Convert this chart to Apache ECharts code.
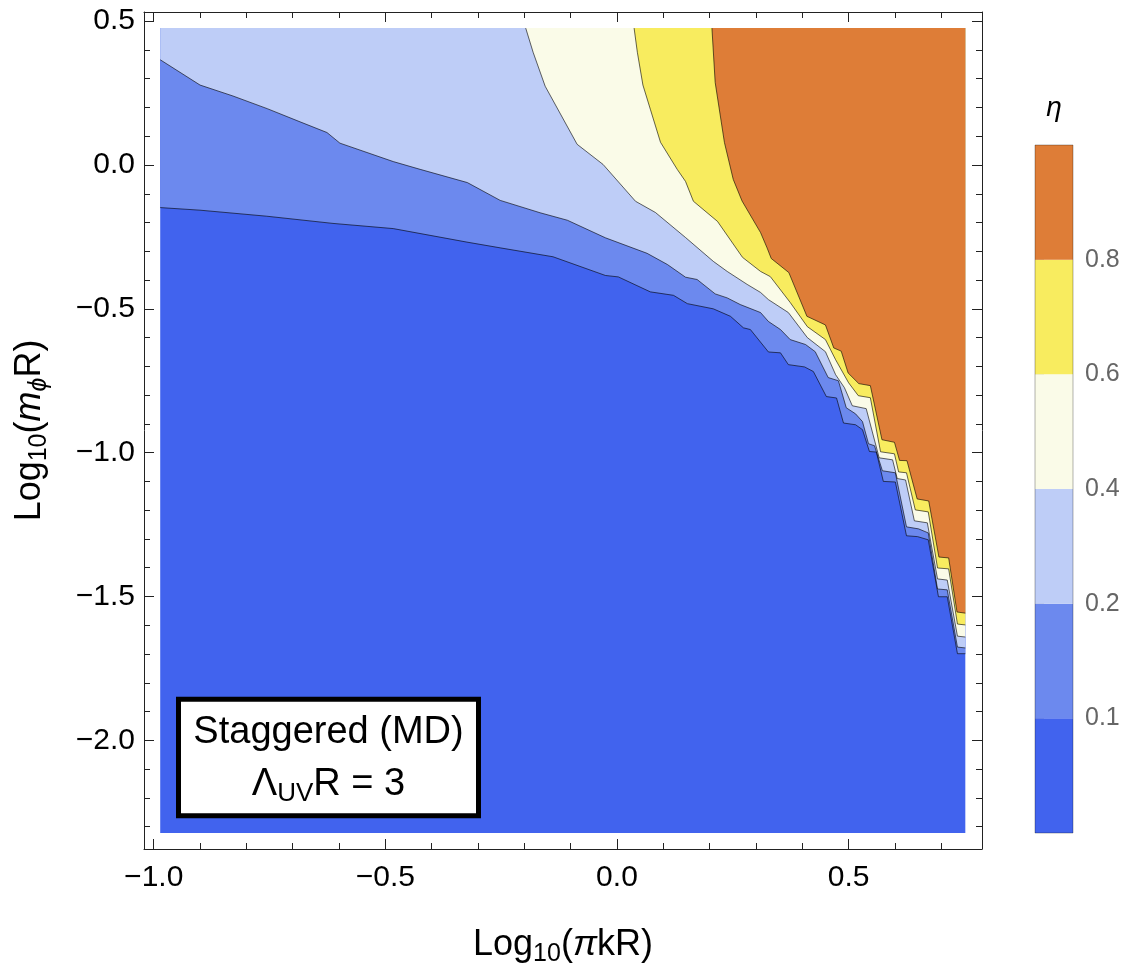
<!DOCTYPE html>
<html><head><meta charset="utf-8">
<script src="https://cdn.jsdelivr.net/npm/echarts@6/dist/echarts.min.js"></script>
<style>html,body{margin:0;padding:0;background:#fff}#c{width:1148px;height:973px}</style>
</head><body><div id="c"></div>
<script>
// ---------- data ----------
const X_RANGE = [-0.986, 0.752];      // extent of computed data
const Y_RANGE = [-2.322, 0.476];
const X_AXIS = [-1.021, 0.788];       // frame extent
const Y_AXIS = [-2.378, 0.532];
const X_MAJOR = [-1.0, -0.5, 0.0, 0.5];
const X_MINOR = [-0.9,-0.8,-0.7,-0.6,-0.4,-0.3,-0.2,-0.1,0.1,0.2,0.3,0.4,0.6,0.7];
const Y_MAJOR = [-2.0, -1.5, -1.0, -0.5, 0.0, 0.5];
const Y_MINOR = [-2.3,-2.2,-2.1,-1.9,-1.8,-1.7,-1.6,-1.4,-1.3,-1.2,-1.1,-0.9,-0.8,-0.7,-0.6,-0.4,-0.3,-0.2,-0.1,0.1,0.2,0.3,0.4];
const LEVELS = [0.1, 0.2, 0.4, 0.6, 0.8];
const COLORS = ['#4163EE', '#6C89EE', '#BECDF7', '#FAFBE8', '#F8EC5F', '#DE7D37'];

// contour eta = 0.1
const C_01 = [[-0.986,-0.148],[-0.900,-0.157],[-0.756,-0.178],[-0.613,-0.203],[-0.483,-0.221],[-0.324,-0.268],[-0.252,-0.288],[-0.138,-0.319],[-0.025,-0.384],[0.003,-0.389],[0.072,-0.441],[0.122,-0.453],[0.152,-0.482],[0.208,-0.500],[0.245,-0.526],[0.273,-0.566],[0.288,-0.572],[0.327,-0.650],[0.353,-0.653],[0.370,-0.694],[0.405,-0.702],[0.424,-0.718],[0.452,-0.805],[0.474,-0.810],[0.489,-0.897],[0.515,-0.903],[0.530,-0.920],[0.545,-0.996],[0.560,-0.998],[0.575,-1.100],[0.601,-1.102],[0.625,-1.289],[0.649,-1.292],[0.672,-1.303],[0.694,-1.501],[0.713,-1.501],[0.735,-1.699],[0.752,-1.699]];
// contour eta = 0.2
const C_02 = [[-0.986,0.366],[-0.900,0.278],[-0.829,0.240],[-0.755,0.196],[-0.684,0.150],[-0.626,0.113],[-0.598,0.076],[-0.483,0.012],[-0.425,-0.015],[-0.323,-0.061],[-0.252,-0.123],[-0.166,-0.166],[-0.107,-0.192],[-0.025,-0.253],[0.065,-0.307],[0.109,-0.346],[0.148,-0.390],[0.173,-0.398],[0.212,-0.448],[0.238,-0.462],[0.266,-0.485],[0.310,-0.513],[0.327,-0.544],[0.353,-0.572],[0.374,-0.607],[0.407,-0.624],[0.428,-0.649],[0.456,-0.739],[0.478,-0.750],[0.495,-0.844],[0.515,-0.865],[0.530,-0.892],[0.543,-0.969],[0.556,-0.976],[0.573,-1.063],[0.601,-1.070],[0.625,-1.258],[0.651,-1.265],[0.672,-1.279],[0.692,-1.474],[0.713,-1.477],[0.735,-1.676],[0.752,-1.679]];
// contour eta = 0.4
const C_04 = [[-0.197,0.476],[-0.181,0.392],[-0.155,0.274],[-0.086,0.072],[-0.030,0.002],[0.040,-0.126],[0.083,-0.165],[0.148,-0.252],[0.208,-0.335],[0.238,-0.370],[0.281,-0.415],[0.310,-0.443],[0.327,-0.468],[0.370,-0.513],[0.411,-0.600],[0.450,-0.649],[0.472,-0.729],[0.491,-0.774],[0.508,-0.837],[0.538,-0.847],[0.566,-1.018],[0.595,-1.025],[0.605,-1.090],[0.623,-1.095],[0.642,-1.237],[0.670,-1.244],[0.692,-1.439],[0.713,-1.443],[0.735,-1.638],[0.752,-1.641]];
// contour eta = 0.6
const C_06 = [[0.037,0.476],[0.044,0.392],[0.056,0.278],[0.072,0.194],[0.094,0.079],[0.130,-0.015],[0.148,-0.057],[0.165,-0.126],[0.217,-0.196],[0.271,-0.321],[0.310,-0.370],[0.331,-0.388],[0.374,-0.478],[0.411,-0.562],[0.450,-0.607],[0.472,-0.677],[0.500,-0.757],[0.521,-0.802],[0.547,-0.809],[0.569,-0.997],[0.599,-1.004],[0.608,-1.067],[0.625,-1.070],[0.644,-1.199],[0.672,-1.206],[0.692,-1.401],[0.716,-1.404],[0.735,-1.596],[0.752,-1.599]];
// contour eta = 0.8
const C_08 = [[0.205,0.476],[0.212,0.287],[0.232,0.078],[0.251,-0.050],[0.270,-0.125],[0.310,-0.235],[0.324,-0.288],[0.333,-0.325],[0.371,-0.374],[0.410,-0.526],[0.450,-0.556],[0.468,-0.636],[0.484,-0.647],[0.499,-0.723],[0.522,-0.760],[0.547,-0.767],[0.572,-0.955],[0.599,-0.964],[0.610,-1.027],[0.626,-1.028],[0.648,-1.161],[0.673,-1.168],[0.695,-1.363],[0.716,-1.366],[0.734,-1.554],[0.752,-1.558]];
const CONTOURS = [C_01, C_02, C_04, C_06, C_08];

// ---------- chart ----------
const FONT = '"Liberation Sans", Arial, Helvetica, sans-serif';
const AX = '#222';
const fmt = v => (v < -1e-9 ? '\u2212' : '') + Math.abs(v).toFixed(1);

function regionPolygon(line) {
  const pts = line.slice();
  pts.push([X_RANGE[1], Y_RANGE[1]]);
  if (line[0][0] <= X_RANGE[0]) pts.push([X_RANGE[0], Y_RANGE[1]]);
  return pts;
}
const BASE = [[X_RANGE[0], Y_RANGE[0]], [X_RANGE[1], Y_RANGE[0]], [X_RANGE[1], Y_RANGE[1]], [X_RANGE[0], Y_RANGE[1]]];
const REGIONS = [BASE].concat(CONTOURS.map(regionPolygon));

const rich = {
  n: {fontSize: 36, fontFamily: FONT, color: '#000', lineHeight: 44},
  i: {fontSize: 36, fontFamily: FONT, color: '#000', lineHeight: 44, fontStyle: 'italic'},
  s: {fontSize: 25, fontFamily: FONT, color: '#000', lineHeight: 22, verticalAlign: 'bottom'},
  si: {fontSize: 25, fontFamily: FONT, color: '#000', lineHeight: 22, verticalAlign: 'bottom', fontStyle: 'italic'}
};

function xAx(pos, ticks, len, withLabel, line) {
  return {
    gridIndex: 0, type: 'value', position: pos, min: X_AXIS[0], max: X_AXIS[1], z: 10,
    axisLine: {show: line, onZero: false, lineStyle: {color: AX, width: 1}},
    axisTick: {show: true, inside: true, length: len, customValues: ticks, lineStyle: {color: AX, width: 1}},
    axisLabel: withLabel ? {show: true, customValues: X_MAJOR, formatter: fmt, fontSize: 30, color: '#000', fontFamily: FONT, margin: 14} : {show: false},
    splitLine: {show: false}
  };
}
function yAx(pos, ticks, len, withLabel, line) {
  return {
    gridIndex: 0, type: 'value', position: pos, min: Y_AXIS[0], max: Y_AXIS[1], z: 10,
    axisLine: {show: line, onZero: false, lineStyle: {color: AX, width: 1}},
    axisTick: {show: true, inside: true, length: len, customValues: ticks, lineStyle: {color: AX, width: 1}},
    axisLabel: withLabel ? {show: true, customValues: Y_MAJOR, formatter: fmt, fontSize: 30, color: '#000', fontFamily: FONT, margin: 9} : {show: false},
    splitLine: {show: false}
  };
}

const xMain = xAx('bottom', X_MAJOR, 10, true, true);
Object.assign(xMain, {name: '{n|Log}{s|10}{n|(}{i|\u03c0}{n|kR)}', nameLocation: 'middle', nameGap: 74, nameTextStyle: {rich: rich}});
const yMain = yAx('left', Y_MAJOR, 10, true, true);
Object.assign(yMain, {name: '{n|Log}{s|10}{n|(}{i|m}{si|\u03d5}{n|R)}', nameLocation: 'middle', nameGap: 92, nameTextStyle: {rich: rich}});

const series = [];
REGIONS.forEach((poly, k) => {
  series.push({
    type: 'custom', xAxisIndex: 0, yAxisIndex: 0, data: poly, silent: true, z: 2 + k,
    encode: {x: 0, y: 1},
    renderItem: (params, api) => params.dataIndex === 0 ? {
      type: 'polygon', shape: {points: poly.map(p => api.coord(p))},
      style: {fill: COLORS[k], stroke: null}
    } : null
  });
});
CONTOURS.forEach(c => {
  series.push({
    type: 'line', xAxisIndex: 0, yAxisIndex: 0, data: c, symbol: 'none', showSymbol: false, silent: true, z: 20,
    lineStyle: {color: 'rgba(0,0,0,0.6)', width: 1}
  });
});
// colour bar
series.push({
  type: 'custom', xAxisIndex: 4, yAxisIndex: 4, silent: true, z: 5,
  data: COLORS.map((c, i) => [0, i]),
  renderItem: (params, api) => {
    const i = params.dataIndex;
    const a = api.coord([0, i]), b = api.coord([1, i + 1]);
    const children = [{type: 'rect', shape: {x: a[0], y: b[1], width: b[0] - a[0], height: a[1] - b[1]}, style: {fill: COLORS[i]}}];
    if (i === 0) {
      const t = api.coord([1, COLORS.length]);
      children.push({type: 'rect', z2: 50, shape: {x: a[0], y: t[1], width: t[0] - a[0], height: a[1] - t[1]}, style: {fill: null, stroke: 'rgba(0,0,0,0.3)', lineWidth: 1}});
    }
    return {type: 'group', children: children};
  }
});

const option = {
  animation: false,
  backgroundColor: '#fff',
  grid: [
    {left: 144, right: 166, top: 12, bottom: 124},
    {left: 1035, width: 38, top: 145, height: 688}
  ],
  xAxis: [
    xMain,
    xAx('bottom', X_MINOR, 6, false, false),
    xAx('top', X_MAJOR, 10, false, true),
    xAx('top', X_MINOR, 6, false, false),
    {gridIndex: 1, type: 'value', min: 0, max: 1, show: false}
  ],
  yAxis: [
    yMain,
    yAx('left', Y_MINOR, 6, false, false),
    yAx('right', Y_MAJOR, 10, false, true),
    yAx('right', Y_MINOR, 6, false, false),
    {gridIndex: 1, type: 'value', position: 'right', min: 0, max: COLORS.length,
     axisLine: {show: false}, splitLine: {show: false},
     axisTick: {show: true, length: 9, customValues: LEVELS.map((_, i) => i + 1), lineStyle: {color: '#ccc'}},
     axisLabel: {show: true, customValues: LEVELS.map((_, i) => i + 1), formatter: v => String(LEVELS[Math.round(v) - 1]), fontSize: 25, color: '#666', fontFamily: FONT, margin: 12}}
  ],
  graphic: [
    {type: 'text', x: 1054, y: 108, z: 30, style: {text: '\u03b7', font: 'italic 28px ' + FONT, fill: '#000', textAlign: 'center', textVerticalAlign: 'middle', align: 'center', verticalAlign: 'middle'}},
    {type: 'rect', z: 30, shape: {x: 178.5, y: 699.2, width: 300, height: 116.6}, style: {fill: '#fff', stroke: '#000', lineWidth: 5}},
    {type: 'text', x: 328.5, y: 733, z: 31, style: {text: 'Staggered (MD)', font: '38px ' + FONT, fill: '#000', textAlign: 'center', textVerticalAlign: 'middle', align: 'center', verticalAlign: 'middle'}},
    {type: 'text', x: 328.5, y: 785, z: 31, style: {text: '{n|\u039b}{s|UV}{n|R = 3}', textAlign: 'center', textVerticalAlign: 'middle', align: 'center', verticalAlign: 'middle',
      rich: {n: {fontSize: 38, fontFamily: FONT, fill: '#000', lineHeight: 44}, s: {fontSize: 26, fontFamily: FONT, fill: '#000', lineHeight: 22, verticalAlign: 'bottom'}}}}
  ],
  series: series
};
const chart = echarts.init(document.getElementById('c'), null, {renderer: 'canvas'});
chart.setOption(option);
</script>
</body></html>
